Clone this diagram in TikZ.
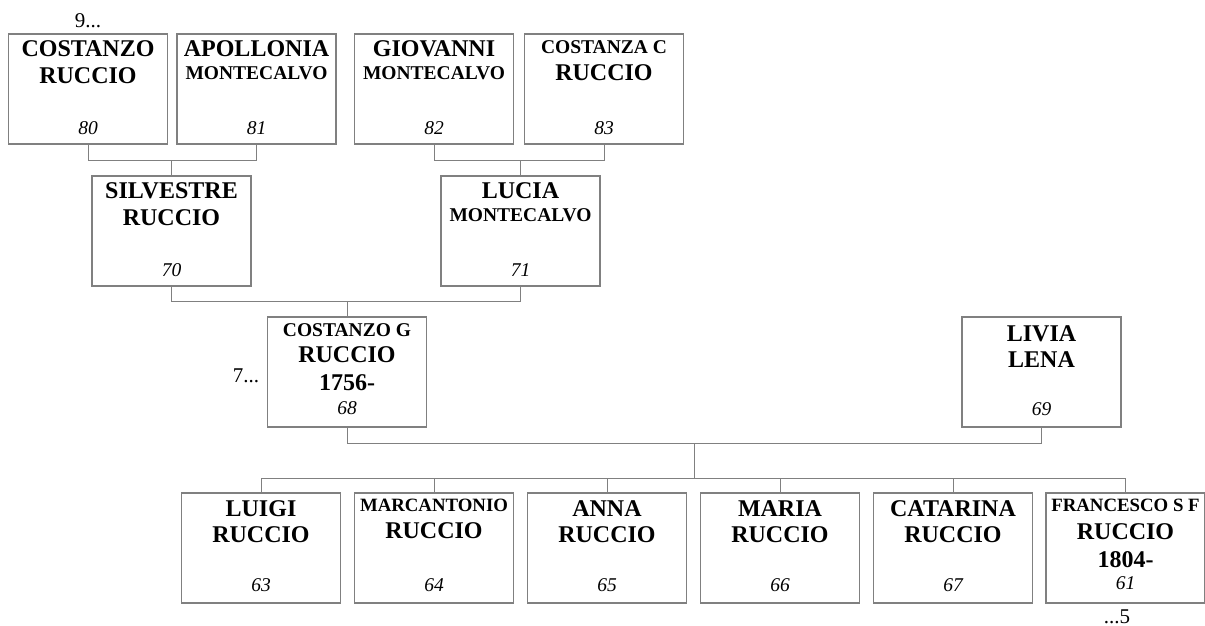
\documentclass[tikz,border=0pt]{standalone}
\usepackage{fontspec}
\setmainfont{Liberation Serif}
\usetikzlibrary{calc}
\definecolor{boxgray}{HTML}{808080}
\definecolor{linegray}{HTML}{808080}
\tikzset{
  pbox/.style={draw=boxgray, line width=1.2pt, minimum width=159pt, minimum height=110pt, inner sep=0pt},
  bigname/.style={font=\fontsize{24}{24}\selectfont\bfseries, anchor=base, inner sep=0pt},
  smallname/.style={font=\fontsize{19.5}{19.5}\selectfont\bfseries, anchor=base, inner sep=0pt},
  tightname/.style={font=\fontsize{18.8}{18.8}\selectfont\bfseries, anchor=base, inner sep=0pt},
  pnum/.style={font=\fontsize{19.5}{19.5}\selectfont\itshape, anchor=base, inner sep=0pt},
  more/.style={font=\fontsize{21}{21}\selectfont, anchor=base, inner sep=0pt},
  link/.style={draw=linegray, line width=1pt},
}
\newcommand\pb[3]{\node[pbox] (#1) at (#2,#3) {};}
\begin{document}
\begin{tikzpicture}[x=1pt,y=-1pt]
\useasboundingbox (0,0) rectangle (1205,626);
% boxes
\pb{p80}{88}{89}
\pb{p81}{256.5}{89}
\pb{p82}{434}{89}
\pb{p83}{604}{89}
\pb{p70}{171.5}{231}
\pb{p71}{520.5}{231}
\pb{p68}{347}{372}
\pb{p69}{1041.5}{372}
\pb{p63}{261}{548}
\pb{p64}{434}{548}
\pb{p65}{607}{548}
\pb{p66}{780}{548}
\pb{p67}{953}{548}
\pb{p61}{1125.5}{548}
% texts
\node[bigname] (t80a) at ($(p80.north)+(0,23)$) {COSTANZO};
\node[bigname] (t80b) at ($(p80.north)+(0,50)$) {RUCCIO};
\node[pnum] (t80n) at ($(p80.north)+(0,101)$) {80};
\node[bigname] (t81a) at ($(p81.north)+(0,23)$) {APOLLONIA};
\node[smallname] (t81b) at ($(p81.north)+(0,46)$) {MONTECALVO};
\node[pnum] (t81n) at ($(p81.north)+(0,101)$) {81};
\node[bigname] (t82a) at ($(p82.north)+(0,23)$) {GIOVANNI};
\node[smallname] (t82b) at ($(p82.north)+(0,46)$) {MONTECALVO};
\node[pnum] (t82n) at ($(p82.north)+(0,101)$) {82};
\node[smallname] (t83a) at ($(p83.north)+(0,20)$) {COSTANZA C};
\node[bigname] (t83b) at ($(p83.north)+(0,47)$) {RUCCIO};
\node[pnum] (t83n) at ($(p83.north)+(0,101)$) {83};
\node[bigname] (t70a) at ($(p70.north)+(0,23)$) {SILVESTRE};
\node[bigname] (t70b) at ($(p70.north)+(0,50)$) {RUCCIO};
\node[pnum] (t70n) at ($(p70.north)+(0,101)$) {70};
\node[bigname] (t71a) at ($(p71.north)+(0,23)$) {LUCIA};
\node[smallname] (t71b) at ($(p71.north)+(0,46)$) {MONTECALVO};
\node[pnum] (t71n) at ($(p71.north)+(0,101)$) {71};
\node[smallname] (t68a) at ($(p68.north)+(0,20)$) {COSTANZO G};
\node[bigname] (t68b) at ($(p68.north)+(0,46)$) {RUCCIO};
\node[bigname] (t68c) at ($(p68.north)+(0,74)$) {1756-};
\node[pnum] (t68n) at ($(p68.north)+(0,98)$) {68};
\node[bigname] (t69a) at ($(p69.north)+(0,25)$) {LIVIA};
\node[bigname] (t69b) at ($(p69.north)+(0,51)$) {LENA};
\node[pnum] (t69n) at ($(p69.north)+(0,99)$) {69};
\node[bigname] (t63a) at ($(p63.north)+(0,24)$) {LUIGI};
\node[bigname] (t63b) at ($(p63.north)+(0,50)$) {RUCCIO};
\node[pnum] (t63n) at ($(p63.north)+(0,99)$) {63};
\node[tightname] (t64a) at ($(p64.north)+(0,19)$) {MARCANTONIO};
\node[bigname] (t64b) at ($(p64.north)+(0,46)$) {RUCCIO};
\node[pnum] (t64n) at ($(p64.north)+(0,99)$) {64};
\node[bigname] (t65a) at ($(p65.north)+(0,24)$) {ANNA};
\node[bigname] (t65b) at ($(p65.north)+(0,50)$) {RUCCIO};
\node[pnum] (t65n) at ($(p65.north)+(0,99)$) {65};
\node[bigname] (t66a) at ($(p66.north)+(0,24)$) {MARIA};
\node[bigname] (t66b) at ($(p66.north)+(0,50)$) {RUCCIO};
\node[pnum] (t66n) at ($(p66.north)+(0,99)$) {66};
\node[bigname] (t67a) at ($(p67.north)+(0,24)$) {CATARINA};
\node[bigname] (t67b) at ($(p67.north)+(0,50)$) {RUCCIO};
\node[pnum] (t67n) at ($(p67.north)+(0,99)$) {67};
\node[tightname] (t61a) at ($(p61.north)+(0,19)$) {FRANCESCO S F};
\node[bigname] (t61b) at ($(p61.north)+(0,47)$) {RUCCIO};
\node[bigname] (t61c) at ($(p61.north)+(0,75)$) {1804-};
\node[pnum] (t61n) at ($(p61.north)+(0,97)$) {61};
% continuation marks
\node[more] (m9) at (88,28) {9...};
\node[more] (m7) at (246,382) {7...};
\node[more] (m5) at (1117,623) {...5};
% connectors
\coordinate (j1) at ($(p80.south)!0.5!(p81.south)+(0,16)$);
\draw[link] (p80.south) -- (p80.south |- j1) -- (p81.south |- j1) -- (p81.south);
\draw[link] (p70.north |- j1) -- (p70.north);
\coordinate (j2) at ($(p82.south)!0.5!(p83.south)+(0,16)$);
\draw[link] (p82.south) -- (p82.south |- j2) -- (p83.south |- j2) -- (p83.south);
\draw[link] (p71.north |- j2) -- (p71.north);
\coordinate (j3) at ($(p70.south)!0.5!(p71.south)+(0,15)$);
\draw[link] (p70.south) -- (p70.south |- j3) -- (p71.south |- j3) -- (p71.south);
\draw[link] (p68.north |- j3) -- (p68.north);
\coordinate (j4) at ($(p68.south)!0.5!(p69.south)+(0,16)$);
\draw[link] (p68.south) -- (p68.south |- j4) -- (p69.south |- j4) -- (p69.south);
\coordinate (s) at ($(j4)+(0,35)$);
\draw[link] (j4) -- (s);
\draw[link] (p63.north) -- (p63.north |- s) -- (p61.north |- s) -- (p61.north);
\foreach \c in {p64,p65,p66,p67} \draw[link] (\c.north |- s) -- (\c.north);
\end{tikzpicture}
\end{document}
